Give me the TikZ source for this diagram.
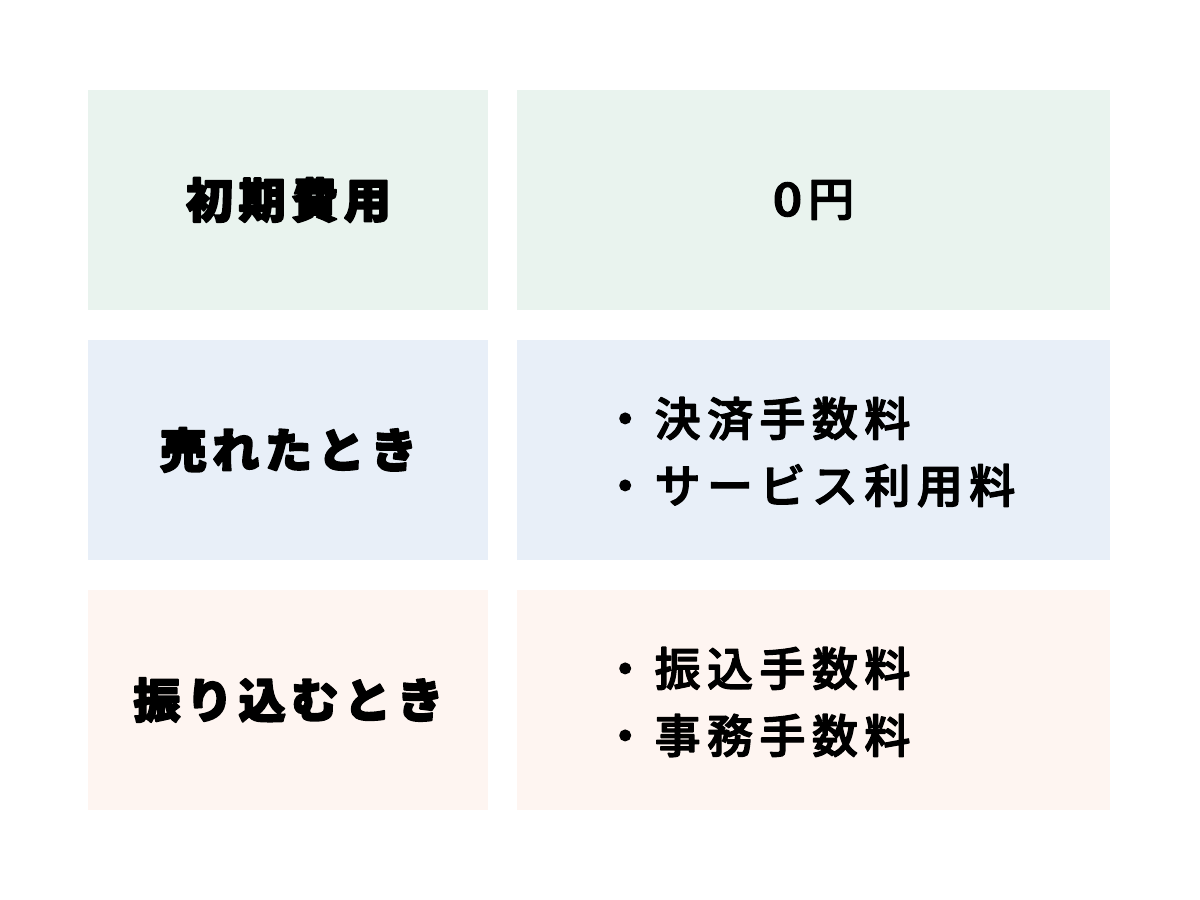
\documentclass[tikz,border=0pt]{standalone}
\usepackage{fontspec}
\newfontfamily\cjkblack{Noto Sans CJK JP Black}[LetterSpace=12]
\newfontfamily\cjkmed{Noto Sans CJK JP Medium}[LetterSpace=14]
% thicken the glyphs with a rounded outline
\newcommand{\heavytext}[2]{\special{pdf:code q 2 Tr #1 w 1 j 1 J}#2\special{pdf:code Q}}
\usetikzlibrary{positioning}
\definecolor{greenbox}{HTML}{E9F3EE}
\definecolor{bluebox}{HTML}{E8EFF8}
\definecolor{pinkbox}{HTML}{FEF5F1}
\tikzset{
  x=1pt,
  y=-1pt,
  headbox/.style={
    minimum width=400pt,
    minimum height=220pt,
    inner sep=0pt,
    font=\cjkblack\fontsize{47}{52}\selectfont
  },
  valuebox/.style={
    minimum width=593pt,
    minimum height=220pt,
    inner sep=0pt,
    font=\cjkmed\fontsize{46}{67}\selectfont
  },
  valuetext/.style={
    anchor=west,
    align=left,
    inner sep=0pt,
    font=\cjkmed\fontsize{46}{67}\selectfont
  }
}
\begin{document}
\begin{tikzpicture}
  \useasboundingbox (0,0) rectangle (1200,900);
  \fill[white] (0,0) rectangle (1200,900);
  \node[headbox,fill=greenbox] (initial) at (288,200) {\raisebox{-3pt}{\kern1pt\heavytext{1.8}{初期費用}}};
  \node[valuebox,fill=greenbox] (initialvalue) at (813.5,200) {\raisebox{-3pt}{\heavytext{1.3}{\scalebox{1.12}[1]{0}\kern6pt 円}}};
  \node[headbox,fill=bluebox] (sold) at (288,450) {\raisebox{-3pt}{\kern1pt\heavytext{1.8}{売れたとき}}};
  \node[valuebox,fill=bluebox] (soldvalue) at (813.5,450) {};
  \node[headbox,fill=pinkbox] (transfer) at (288,700) {\raisebox{-3pt}{\kern1pt\heavytext{1.8}{振り込むとき}}};
  \node[valuebox,fill=pinkbox] (transfervalue) at (813.5,700) {};
  \node[valuetext] (soldtext) at (602,456) {\heavytext{1.3}{\begin{tabular}{@{}l@{}}・決済手数料\\・サービス利用料\end{tabular}}};
  \node[valuetext] (transfertext) at (602,706) {\heavytext{1.3}{\begin{tabular}{@{}l@{}}・振込手数料\\・事務手数料\end{tabular}}};
\end{tikzpicture}
\end{document}
